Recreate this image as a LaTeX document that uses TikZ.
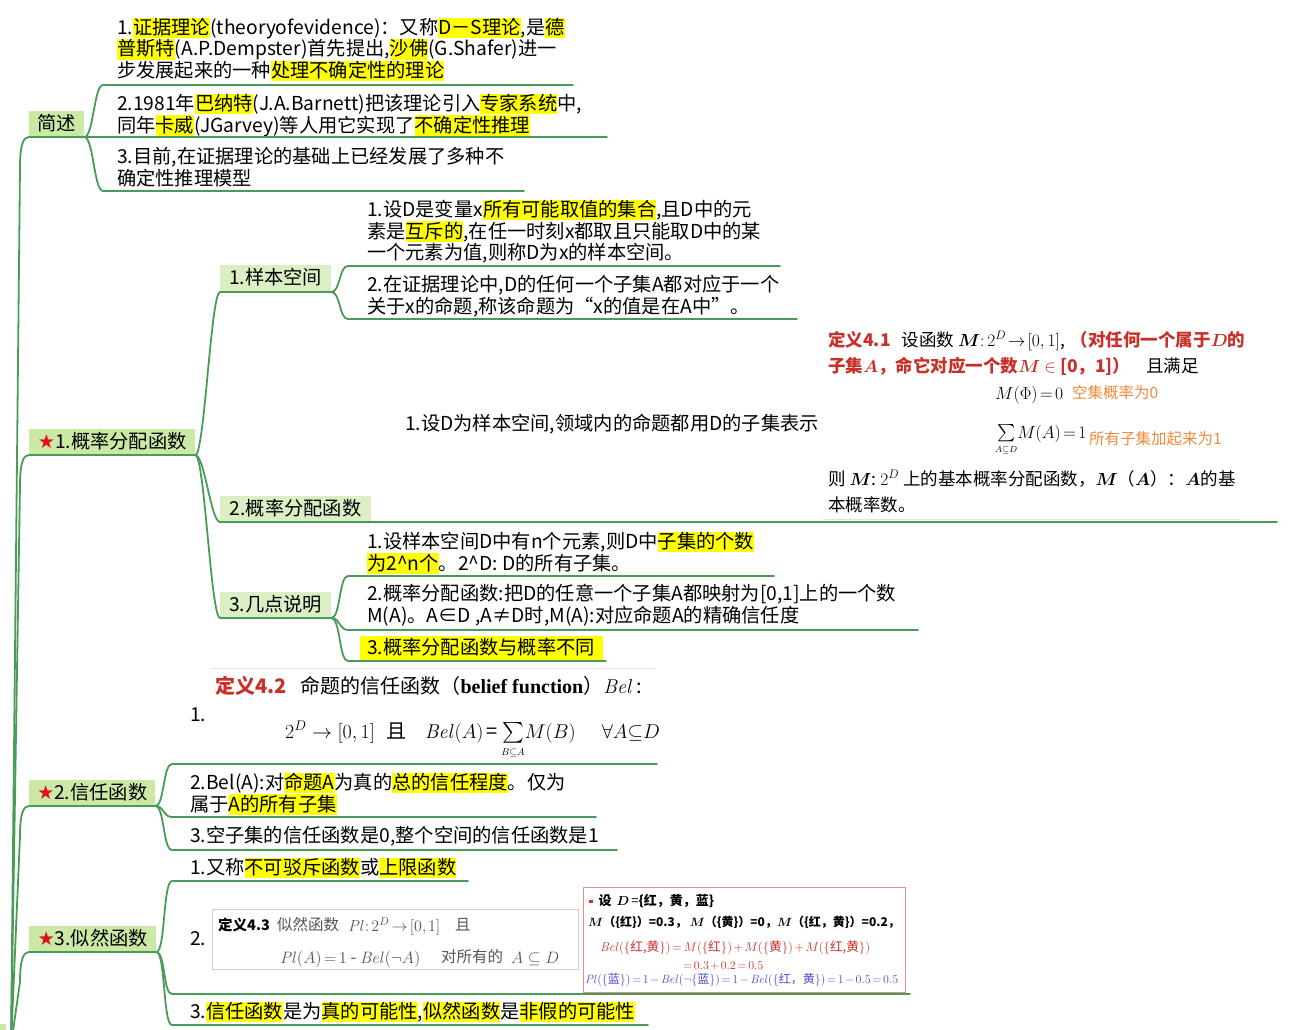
\RequirePackage{fix-cm}
\documentclass[tikz,border=0pt]{standalone}
\usepackage{amsmath}
\usepackage[no-math]{fontspec}
\setmainfont{Noto Sans CJK SC}
\newfontfamily\dejavu{DejaVu Sans}
\newfontfamily\tnr{Liberation Serif}
\usetikzlibrary{calc}
\definecolor{branchc}{HTML}{4A9A58}
\definecolor{lonefill}{HTML}{CCE8A5}
\definecolor{ltwofill}{HTML}{DAEFC4}
\definecolor{hly}{HTML}{FFFF00}
\definecolor{dred}{HTML}{C8302A}
\definecolor{starred}{HTML}{E01020}
\definecolor{oran}{HTML}{F08A3C}
\definecolor{pblue}{HTML}{4B4BD2}
\definecolor{gtext}{HTML}{555555}
\definecolor{faintc}{HTML}{E2E2E2}
\definecolor{faintb}{HTML}{CFCFCF}
\definecolor{boxred}{HTML}{E09090}
\newcommand\fsz{\fontsize{19.25}{21.5}\selectfont}
\newcommand\fdef{\fontsize{17.5}{21}\selectfont}
\newcommand\tightmath{\thinmuskip=2mu\medmuskip=2mu\thickmuskip=2.5mu}
\newcommand\lstr{\rule[-3.6pt]{0pt}{20.2pt}}
\newcommand\hl[1]{{\setlength\fboxsep{0pt}\colorbox{hly}{\lstr#1}}}
\newcommand\redstar{{\dejavu\color{starred}★}}
\newcommand\brconn[2]{\draw[branch] (#1) .. controls ($(#1)+(9,0)$) and ($(#2)+(-9,0)$) .. (#2);}
\newcommand\rootconn[1]{\draw[branch] (root) -- ($(#1)+(-9,30)$) .. controls ($(#1)+(-9,6)$) and ($(#1)+(-5,0)$) .. (#1);}
\tikzset{
 branch/.style={draw=branchc, line width=1.8pt, line cap=round},
 lone/.style={fill=lonefill, inner sep=0pt, anchor=south west, font=\fsz},
 ltwo/.style={fill=ltwofill, inner sep=0pt, anchor=south west, font=\fsz},
 txt/.style={anchor=north west, inner sep=0pt, align=left, font=\fsz},
 defn/.style={anchor=base west, inner sep=0pt},
}
\begin{document}
\begin{tikzpicture}[x=1pt,y=-1pt]
\useasboundingbox (0,0) rectangle (1293,1030);
\fill[white] (0,0) rectangle (1293,1030);
\coordinate (root) at (11,1045);
\fill[lonefill] (0,1024) rectangle (6,1030);
% main topics
\node[lone, minimum width=55, minimum height=26] (jianshu) at (29,137) {\lstr 简述};
\node[lone, minimum width=166, minimum height=26] (f1) at (29,455) {\lstr\redstar 1.概率分配函数};
\node[lone, minimum width=126, minimum height=26] (f2) at (29,806) {\lstr\redstar 2.信任函数};
\node[lone, minimum width=127, minimum height=26] (f3) at (29,952) {\lstr\redstar 3.似然函数};
% level 2
\node[ltwo, minimum width=111, minimum height=27] (s1) at (220,292) {\lstr 1.样本空间};
\node[ltwo, minimum width=151, minimum height=26] (s2) at (220,522) {\lstr 2.概率分配函数};
\node[ltwo, minimum width=111, minimum height=26] (s3) at (220,618) {\lstr 3.几点说明};
% coordinates of underlines
\coordinate (j1s) at (103,85); \coordinate (j1e) at (573,85);
\coordinate (j2s) at (103,137); \coordinate (j2e) at (607,137);
\coordinate (j3s) at (103,191); \coordinate (j3e) at (524,191);
\coordinate (s1as) at (348,266); \coordinate (s1ae) at (780,266);
\coordinate (s1bs) at (348,319); \coordinate (s1be) at (797,319);
\coordinate (s2ae) at (1277,522);
\coordinate (s3as) at (348,576); \coordinate (s3ae) at (774,576);
\coordinate (s3bs) at (348,630); \coordinate (s3be) at (918,630);
\coordinate (s3cs) at (348,661); \coordinate (s3ce) at (606,661);
\coordinate (b1s) at (172,764); \coordinate (b1e) at (657,764);
\coordinate (b2s) at (172,817); \coordinate (b2e) at (596,817);
\coordinate (b3s) at (172,850); \coordinate (b3e) at (617,850);
\coordinate (p1s) at (172,881); \coordinate (p1e) at (468,881);
\coordinate (p2s) at (172,994); \coordinate (p2e) at (910,994);
\coordinate (p3s) at (172,1025); \coordinate (p3e) at (648,1025);
% faint image borders
\draw[faintc, line width=1pt] (823,519) -- (1240,519);
\draw[faintc, line width=1pt] (212,668) -- (655,668);
% texts
\node[txt] (j1) at (117,17.7) {\lstr 1.\hl{证据理论}(theoryofevidence)：又称\hl{D－S理论},是\hl{德}\\\lstr\hl{普斯特}(A.P.Dempster)首先提出,\hl{沙佛}(G.Shafer)进一\\\lstr 步发展起来的一种\hl{处理不确定性的理论}};
\node[txt] (j2) at (117,93.7) {\lstr 2.1981年\hl{巴纳特}(J.A.Barnett)把该理论引入\hl{专家系统}中,\\\lstr 同年\hl{卡威}(JGarvey)等人用它实现了\hl{不确定性推理}};
\node[txt] (j3) at (117,146.7) {\lstr 3.目前,在证据理论的基础上已经发展了多种不\\\lstr 确定性推理模型};
\node[txt] (s1a) at (367,199.7) {\lstr 1.设D是变量x\hl{所有可能取值的集合},且D中的元\\\lstr 素是\hl{互斥的},在任一时刻x都取且只能取D中的某\\\lstr 一个元素为值,则称D为x的样本空间。};
\node[txt] (s1b) at (367,274.7) {\lstr 2.在证据理论中,D的任何一个子集A都对应于一个\\\lstr 关于x的命题,称该命题为“x的值是在A中”。};
\node[txt] (s2a) at (405,413.7) {\lstr 1.设D为样本空间,领域内的命题都用D的子集表示};
\node[txt] (s3a) at (367,531.7) {\lstr 1.设样本空间D中有n个元素,则D中\hl{子集的个数}\\\lstr\hl{为2\textasciicircum n个}。2\textasciicircum D: D的所有子集。};
\node[txt] (s3b) at (367,583.7) {\lstr 2.概率分配函数:把D的任意一个子集A都映射为[0,1]上的一个数\\\lstr M(A)。A∈D ,A≠D时,M(A):对应命题A的精确信任度};
\node[txt] (s3c) at (360,635.3) {{\setlength\fboxsep{0pt}\colorbox{hly}{\rule[-5pt]{0pt}{24pt}\hspace{7pt}3.概率分配函数与概率不同\hspace{8pt}}}};
\node[txt] (b1) at (190,704.7) {\lstr 1.};
\node[txt] (b2) at (190,772.7) {\lstr 2.Bel(A):对\hl{命题A}为真的\hl{总的信任程度}。仅为\\\lstr 属于\hl{A的所有子集}};
\node[txt] (b3) at (190,825.7) {\lstr 3.空子集的信任函数是0,整个空间的信任函数是1};
\node[txt] (p1) at (190,857.7) {\lstr 1.又称\hl{不可驳斥函数}或\hl{上限函数}};
\node[txt] (p2) at (190,928.7) {\lstr 2.};
\node[txt] (p3) at (190,1001.7) {\lstr 3.\hl{信任函数}是为\hl{真的可能性},\hl{似然函数}是\hl{非假的可能性}};
% definition 4.1
\node[defn, font=\fdef] (d41a) at (828,346) {{\color{dred}\bfseries 定义4.1}\hspace{11pt}设函数 $\boldsymbol{M}{:}\,2^D\!\to\![0,1]$,\hspace{6pt}{\color{dred}\bfseries（对任何一个属于$\boldsymbol{D}$的}};
\node[defn, font=\fdef] (d41b) at (828,372) {{\color{dred}\bfseries 子集$\boldsymbol{A}$，命它对应一个数$\boldsymbol{M}$ $\in$ [0，1]）}\hspace{16pt}且满足};
\node[defn, font=\fdef\tightmath] (d41c) at (995,399) {$M(\Phi)=0$};
\node[defn, font=\fontsize{15.5}{18}\selectfont, text=oran] (d41o1) at (1072,398) {空集概率为0};
\node[defn, font=\fdef\tightmath] (d41d) at (995,438) {$\sum\limits_{\scriptscriptstyle A\subseteq D}\!M(A)=1$};
\node[defn, font=\fontsize{15.5}{18}\selectfont, text=oran] (d41o2) at (1089,444) {所有子集加起来为1};
\node[defn, font=\fdef] (d41e) at (828,485) {则 $\boldsymbol{M}$:\ $2^D$ 上的基本概率分配函数，$\boldsymbol{M}$（$\boldsymbol{A}$）：$\boldsymbol{A}$的基};
\node[defn, font=\fdef] (d41f) at (828,511) {本概率数。};
% definition 4.2
\node[defn, font=\fontsize{20}{24}\selectfont] (d42a) at (215,693) {{\color{dred}\bfseries 定义4.2}\hspace{14pt}命题的信任函数（{\tnr\bfseries belief function}）$\mathit{Bel}$\,:};
\node[defn, font=\fontsize{20}{24}\selectfont] (d42b) at (285,738) {$2^D\to[0,1]$\hspace{12pt}且\hspace{18pt}$\mathit{Bel}(A)$\,=\,$\sum\limits_{\scriptscriptstyle B\subseteq A}\!M(B)$\hspace{26pt}$\forall A{\subseteq}D$};
% definition 4.3
\node[draw=faintb, line width=0.8pt, minimum width=366, minimum height=60, anchor=north west, inner sep=0pt] (d43box) at (212,909) {};
\node[defn, font=\fontsize{14.5}{17}\selectfont] (d43a) at (218,930) {\bfseries 定义4.3};
\node[defn, font=\fontsize{15.5}{18}\selectfont, text=gtext] (d43b) at (277,930) {似然函数};
\node[defn, font=\fontsize{16}{19}\selectfont\tightmath, text=gtext] (d43c) at (348,931) {$\mathit{Pl}\!:2^D\to[0,1]$};
\node[defn, font=\fontsize{15.5}{18}\selectfont, text=gtext] (d43d) at (455,930) {且};
\node[defn, font=\fontsize{16.5}{19}\selectfont\tightmath, text=gtext] (d43e) at (280,963) {$\mathit{Pl}(A)=1$ - $\mathit{Bel}(\neg A)$};
\node[defn, font=\fontsize{15.5}{18}\selectfont, text=gtext] (d43f) at (441,962) {对所有的};
\node[defn, font=\fontsize{16.5}{19}\selectfont, text=gtext] (d43g) at (511,963) {$A\subseteq D$};
% example
\node[draw=boxred, line width=0.9pt, minimum width=322, minimum height=105, anchor=north west, inner sep=0pt] (exbox) at (583,887) {};
\node[defn, font=\fontsize{13}{15}\selectfont] (ex1) at (589,905) {{\color{dred}\rule[2pt]{3.5pt}{3.5pt}}\hspace{6pt}{\bfseries 设}\hspace{5pt}$\boldsymbol{D}$\,={\bfseries\{红，黄，蓝\}}};
\node[defn, font=\fontsize{12}{15}\selectfont] (ex2) at (588,926) {\bfseries $\boldsymbol{M}$（\{红\}）=0.3，\ $\boldsymbol{M}$（\{黄\}）=0，$\boldsymbol{M}$（\{红，黄\}）=0.2，};
\node[defn, font=\fontsize{12.7}{15}\selectfont\tightmath, text=dred] (ex3) at (600,951) {$\mathit{Bel}(\{\text{红,黄}\})=M(\{\text{红}\})+M(\{\text{黄}\})+M(\{\text{红,黄}\})$};
\node[defn, font=\fontsize{12}{14}\selectfont\tightmath, text=dred] (ex4) at (683,969) {$=0.3+0.2=0.5$};
\node[defn, font=\fontsize{12}{15}\selectfont\tightmath, text=pblue] (ex5) at (585,983) {$\mathit{Pl}(\{\text{蓝}\})=1-\mathit{Bel}(\neg\{\text{蓝}\})=1-\mathit{Bel}(\{\text{红，黄}\})=1-0.5=0.5$};
% root connectors
\rootconn{jianshu.south west}
\rootconn{f1.south west}
\rootconn{f2.south west}
\rootconn{f3.south west}
% main underlines
\draw[branch] (jianshu.south west) -- (jianshu.south east);
\draw[branch] (f1.south west) -- (f1.south east);
\draw[branch] (f2.south west) -- (f2.south east);
\draw[branch] (f3.south west) -- (f3.south east);
\draw[branch] (s1.south west) -- (s1.south east);
\draw[branch] (s2.south west) -- (s2.south east) -- (s2ae);
\draw[branch] (s3.south west) -- (s3.south east);
% branch connectors
\brconn{jianshu.south east}{j1s}
\brconn{jianshu.south east}{j2s}
\brconn{jianshu.south east}{j3s}
\brconn{f1.south east}{s1.south west}
\brconn{f1.south east}{s2.south west}
\brconn{f1.south east}{s3.south west}
\brconn{s1.south east}{s1as}
\brconn{s1.south east}{s1bs}
\brconn{s3.south east}{s3as}
\brconn{s3.south east}{s3bs}
\brconn{s3.south east}{s3cs}
\brconn{f2.south east}{b1s}
\brconn{f2.south east}{b2s}
\brconn{f2.south east}{b3s}
\brconn{f3.south east}{p1s}
\brconn{f3.south east}{p2s}
\brconn{f3.south east}{p3s}
% child underlines
\draw[branch] (j1s) -- (j1e);
\draw[branch] (j2s) -- (j2e);
\draw[branch] (j3s) -- (j3e);
\draw[branch] (s1as) -- (s1ae);
\draw[branch] (s1bs) -- (s1be);
\draw[branch] (s3as) -- (s3ae);
\draw[branch] (s3bs) -- (s3be);
\draw[branch] (s3cs) -- (s3ce);
\draw[branch] (b1s) -- (b1e);
\draw[branch] (b2s) -- (b2e);
\draw[branch] (b3s) -- (b3e);
\draw[branch] (p1s) -- (p1e);
\draw[branch] (p2s) -- (p2e);
\draw[branch] (p3s) -- (p3e);
\end{tikzpicture}
\end{document}
